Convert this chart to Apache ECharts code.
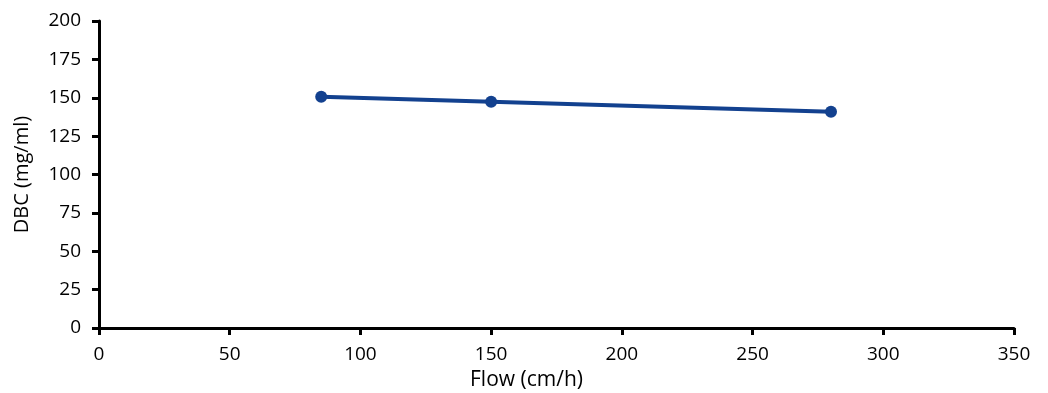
<!DOCTYPE html>
<html>
<head>
<meta charset="utf-8">
<script src="https://cdn.jsdelivr.net/npm/echarts@6/dist/echarts.min.js"></script>
<style>html,body{margin:0;padding:0;background:#fff}#c{width:1048px;height:393px}</style>
</head>
<body>
<div id="c"></div>
<script>
const flow = [85, 150, 280];
const dbc = [150.7, 147.4, 140.9];
const xName = 'Flow (cm/h)';
const yName = 'DBC (mg/ml)';

const chart = echarts.init(document.getElementById('c'), null, {renderer: 'canvas'});
const font = '"Open Sans", sans-serif';
const axisCommon = {
  axisLine: {show: true, onZero: false, lineStyle: {color: '#000', width: 3}},
  axisTick: {show: true, inside: false, length: 7, lineStyle: {color: '#000', width: 3}},
  splitLine: {show: false},
};
chart.setOption({
  animation: false,
  grid: {left: 99, right: 34, top: 21, bottom: 65, containLabel: false, outerBoundsMode: 'none'},
  xAxis: Object.assign({}, axisCommon, {
    type: 'value', min: 0, max: 350, interval: 50,
    name: xName, nameLocation: 'middle', nameGap: 42,
    nameTextStyle: {fontFamily: font, fontSize: 21, color: '#000', padding: [0, 60, 0, 0]},
    axisLabel: {fontFamily: font, fontSize: 19, color: '#000', margin: 17},
  }),
  yAxis: Object.assign({}, axisCommon, {
    type: 'value', min: 0, max: 200, interval: 25,
    name: yName, nameLocation: 'middle', nameGap: 67,
    nameTextStyle: {fontFamily: font, fontSize: 20, color: '#000'},
    axisLabel: {fontFamily: font, fontSize: 19, color: '#000', margin: 18},
  }),
  series: [{
    type: 'line',
    data: flow.map((x, i) => [x, dbc[i]]),
    symbol: 'circle', symbolSize: 12,
    lineStyle: {color: '#13418f', width: 4},
    itemStyle: {color: '#13418f'},
  }]
});
</script>
</body>
</html>
